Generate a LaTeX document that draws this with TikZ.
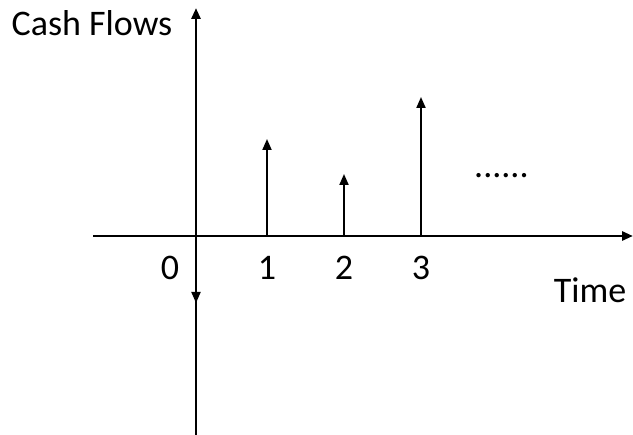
\documentclass[tikz,border=0pt]{standalone}
\usepackage{fontspec}
\setmainfont{Carlito}
\usetikzlibrary{arrows.meta, positioning}

\begin{document}
\begin{tikzpicture}[x=1pt, y=-1pt,
        axis/.style={line width=2.8pt, -{Triangle[width=9pt,length=11pt]}},
        flow/.style={line width=2pt, -{Triangle[width=9pt,length=11pt]}},
        lbl/.style={font=\fontsize{36}{42}\selectfont, inner sep=0pt}
    ]
        \useasboundingbox (0,0) rectangle (633,435);

        % axes
        \coordinate (o) at (196,236);
        \coordinate (xl) at (93,236);
        \coordinate (xr) at (633,236);
        \coordinate (yb) at (196,435);
        \coordinate (yt) at (196,8);
        \draw[axis] (xl) -- (xr);
        \draw[axis] (yb) -- (yt);

        % cash flows
        \coordinate (t1) at (267,236);
        \coordinate (t2) at (344,236);
        \coordinate (t3) at (421,236);
        \coordinate (c0) at (196,303);
        \coordinate (c1) at (267,139);
        \coordinate (c2) at (344,174);
        \coordinate (c3) at (421,97);
        \draw[flow] (o) -- (c0);
        \draw[flow] (t1) -- (c1);
        \draw[flow] (t2) -- (c2);
        \draw[flow] (t3) -- (c3);

        % labels
        \node[lbl] (n0) at (170,268) {0};
        \node[lbl] (n1) at (267,268) {1};
        \node[lbl] (n2) at (344,268) {2};
        \node[lbl] (n3) at (421,268) {3};
        \node[lbl] (time) at (590,290) {Time};
        \node[lbl] (cash) at (92,23) {Cash Flows};
        \node[lbl, anchor=base west] (dots) at (474,178) {......};
    \end{tikzpicture}
\end{document}
